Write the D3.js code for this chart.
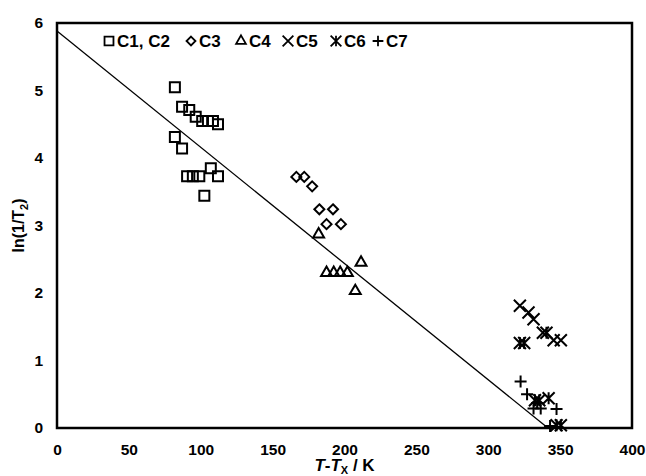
<!DOCTYPE html>
<html>
<head>
<meta charset="utf-8">
<script src="https://cdn.jsdelivr.net/npm/d3@7"></script>
<style>
    body { margin: 0; background: #fff; }
    text { font-family: "Liberation Sans", Arial, sans-serif; font-weight: bold; }
</style>
</head>
<body>
<script>
// series: [T-Tx, ln(1/T2)]
const c12 = [[82, 5.05], [87, 4.76], [92, 4.71], [96.5, 4.61], [101, 4.55], [105, 4.55],
             [108.5, 4.55], [112, 4.50], [82, 4.31], [87, 4.14], [90.5, 3.73], [94.5, 3.73],
             [99, 3.73], [107, 3.85], [112, 3.73], [102.5, 3.44]]
const c3 = [[166.5, 3.72], [172, 3.72], [177.5, 3.58], [182.5, 3.24], [192, 3.24],
            [187.5, 3.02], [197.5, 3.02]]
const c4 = [[182, 2.87], [187.5, 2.30], [192.5, 2.30], [197, 2.30], [202, 2.30],
            [211.5, 2.45], [207.5, 2.03]]
const c5 = [[322, 1.81], [328, 1.71], [331.5, 1.61], [338, 1.41], [345.5, 1.30], [350.5, 1.30]]
const c6 = [[322, 1.26], [325, 1.26], [340.5, 1.41], [332.5, 0.41], [335.5, 0.41],
            [342, 0.44], [347.5, 0.04], [350.5, 0.04]]
const c7 = [[322.5, 0.69], [327, 0.50], [331.5, 0.29], [336.5, 0.29], [334, 0.37],
            [347.5, 0.28], [343, 0.03]]
const fitLine = [[0, 5.88], [341.5, 0]]

const xTicks = [0, 50, 100, 150, 200, 250, 300, 350, 400]
const yTicks = [0, 1, 2, 3, 4, 5, 6]
const legendNames = ["C1, C2", "C3", "C4", "C5", "C6", "C7"]

const width = 646, height = 476
const margin = {top: 23, right: 14, bottom: 48, left: 57}

const svg = d3.select("body").append("svg")
    .attr("width", width)
    .attr("height", height)

const x = d3.scaleLinear().domain([0, 400]).range([margin.left, width - margin.right])
const y = d3.scaleLinear().domain([0, 6]).range([height - margin.bottom, margin.top])

// star marker: x with a vertical stroke
const symbolStar = {
    draw(ctx, size) {
        const r = Math.sqrt(size) / 2
        ctx.moveTo(-r, -r); ctx.lineTo(r, r)
        ctx.moveTo(-r, r); ctx.lineTo(r, -r)
        ctx.moveTo(0, -r); ctx.lineTo(0, r)
    }
}
const symbolX = {
    draw(ctx, size) {
        const r = Math.sqrt(size) / 2
        ctx.moveTo(-r, -r); ctx.lineTo(r, r)
        ctx.moveTo(-r, r); ctx.lineTo(r, -r)
    }
}
const symbolCross = {
    draw(ctx, size) {
        const r = Math.sqrt(size) / 2
        ctx.moveTo(-r, 0); ctx.lineTo(r, 0)
        ctx.moveTo(0, -r); ctx.lineTo(0, r)
    }
}

const series = [
    {data: c12, type: d3.symbolSquare, size: 100},
    {data: c3, type: d3.symbolDiamond2, size: 64},
    {data: c4, type: d3.symbolTriangle2, size: 85},
    {data: c5, type: symbolX, size: 144},
    {data: c6, type: symbolStar, size: 144},
    {data: c7, type: symbolCross, size: 144}
]

// axes (labels only, no tick marks)
svg.append("g")
    .attr("transform", `translate(0,${height - margin.bottom})`)
    .call(d3.axisBottom(x).tickValues(xTicks).tickSize(0).tickPadding(16).tickFormat(d3.format("d")))
    .call(g => g.select(".domain").remove())
    .selectAll("text")
    .attr("font-size", 15.5).attr("fill", "#000")
    .attr("font-family", "Liberation Sans, Arial, sans-serif")

svg.append("g")
    .attr("transform", `translate(${margin.left},0)`)
    .call(d3.axisLeft(y).tickValues(yTicks).tickSize(0).tickPadding(14).tickFormat(d3.format("d")))
    .call(g => g.select(".domain").remove())
    .selectAll("text")
    .attr("font-size", 15.5).attr("fill", "#000")
    .attr("font-family", "Liberation Sans, Arial, sans-serif")

// frame
svg.append("rect")
    .attr("x", x(0)).attr("y", y(6))
    .attr("width", x(400) - x(0)).attr("height", y(0) - y(6))
    .attr("fill", "none").attr("stroke", "#000").attr("stroke-width", 2.5)

// fitted line
svg.append("path")
    .attr("d", d3.line().x(d => x(d[0])).y(d => y(d[1]))(fitLine))
    .attr("fill", "none").attr("stroke", "#000").attr("stroke-width", 1.3)

series.forEach(s => {
    svg.append("g").selectAll("path")
        .data(s.data)
        .join("path")
        .attr("transform", d => `translate(${x(d[0])},${y(d[1])})`)
        .attr("d", d3.symbol(s.type, s.size))
        .attr("fill", "none")
        .attr("stroke", "#000")
        .attr("stroke-width", 2)
})

// legend
const legendX = [109, 191, 241, 288, 336, 378]
const legend = svg.append("g")
legendNames.forEach((name, i) => {
    const s = series[i]
    legend.append("path")
        .attr("transform", `translate(${legendX[i]},41)`)
        .attr("d", d3.symbol(s.type, s.size * 0.8))
        .attr("fill", "none").attr("stroke", "#000").attr("stroke-width", 1.8)
    legend.append("text")
        .attr("x", legendX[i] + 8).attr("y", 47)
        .attr("font-size", 17)
        .text(name)
})

// axis titles
const xt = svg.append("text")
    .attr("x", (x(0) + x(400)) / 2).attr("y", 471)
    .attr("text-anchor", "middle").attr("font-size", 17)
xt.append("tspan").attr("font-style", "italic").text("T")
xt.append("tspan").text("-")
xt.append("tspan").attr("font-style", "italic").text("T")
xt.append("tspan").attr("font-size", 11).attr("dy", 3).text("X")
xt.append("tspan").attr("dy", -3).text(" / K")

const yt = svg.append("text")
    .attr("transform", `translate(24,${(y(0) + y(6)) / 2}) rotate(-90)`)
    .attr("text-anchor", "middle").attr("font-size", 16)
yt.append("tspan").text("ln(1/T")
yt.append("tspan").attr("font-size", 11).attr("dy", 4).text("2")
yt.append("tspan").attr("dy", -4).text(")")
</script>
</body>
</html>
